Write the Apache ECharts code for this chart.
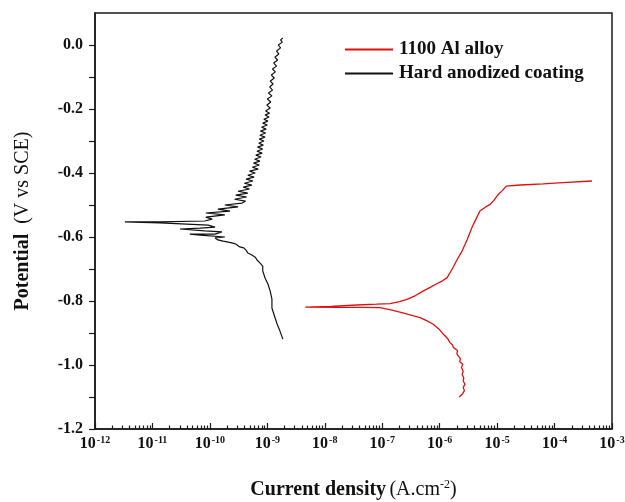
<!DOCTYPE html>
<html>
<head>
<meta charset="utf-8">
<script src="https://cdn.jsdelivr.net/npm/echarts@6/dist/echarts.min.js"></script>
<style>html,body{margin:0;padding:0;background:#fff}#c{width:625px;height:502px}</style>
</head>
<body>
<div id="c"></div>
<script>
// ---- data (log10 of current density in A/cm^2, potential in V vs SCE) ----
const seriesNames = ['1100 Al alloy', 'Hard anodized coating'];

const alloyLogI = [-5.66,-5.60,-5.57,-5.59,-5.56,-5.59,-5.58,-5.61,-5.59,-5.62,-5.60,-5.65,-5.64,-5.70,-5.69,-5.76,-5.78,-5.82,-5.86,-5.90,-5.94,-6.00,-6.05,-6.12,-6.22,-6.34,-6.50,-6.64,-6.85,-7.04,-7.40,-7.80,-8.34,
  -7.90,-7.44,-7.10,-6.86,-6.70,-6.57,-6.42,-6.29,-6.15,-6.05,-5.95,-5.87,-5.77,-5.70,-5.61,-5.52,-5.44,-5.37,-5.30,-5.20,-5.12,-5.05,-4.98,-4.91,-4.84,-4.60,-4.20,-3.85,-3.35];
const alloyE = [-1.100,-1.090,-1.080,-1.070,-1.060,-1.050,-1.040,-1.030,-1.020,-1.008,-0.998,-0.990,-0.980,-0.966,-0.955,-0.945,-0.937,-0.930,-0.918,-0.910,-0.903,-0.890,-0.882,-0.872,-0.862,-0.852,-0.844,-0.837,-0.828,-0.821,-0.820,-0.820,-0.819,
  -0.8165,-0.8125,-0.810,-0.808,-0.802,-0.795,-0.783,-0.769,-0.756,-0.746,-0.737,-0.727,-0.696,-0.672,-0.644,-0.608,-0.571,-0.545,-0.519,-0.506,-0.498,-0.484,-0.467,-0.455,-0.441,-0.4375,-0.434,-0.430,-0.425];

const coatingLogI = [-8.73,-8.78,-8.83,-8.87,-8.92,-8.92,-8.95,-8.99,-9.04,-9.08,-9.08,-9.13,-9.18,-9.21,-9.27,-9.34,-9.37,-9.41,-9.48,-9.55,-9.60,-9.68,-9.77,-9.86,-9.91,
  -9.74,-10.17,-10.35,-9.91,-9.79,-10.09,-10.52,-10.17,-9.91,-10.03,-10.87,-11.48,-10.87,-10.09,-9.96,-10.07,-9.74,-10.07,-9.65,-9.86,-9.51,-9.74,-9.44,
  -9.38,-9.57,-9.36,-9.55,-9.34,-9.51,-9.31,-9.42,-9.27,-9.40,-9.25,-9.37,-9.23,-9.34,-9.21,-9.31,-9.16,-9.26,-9.14,-9.24,-9.13,-9.22,-9.11,-9.20,-9.09,-9.18,-9.08,-9.17,-9.07,-9.15,-9.06,-9.14,-9.04,-9.13,-9.03,-9.12,-9.02,-9.10,-9.00,-9.08,-8.99,-9.06,-8.97,-9.04,-8.96,-9.03,
  -8.95,-9.01,-8.94,-9.00,-8.92,-8.98,-8.91,-8.96,-8.90,-8.95,-8.88,-8.93,-8.86,-8.91,-8.84,-8.89,-8.82,-8.87,-8.80,-8.84,-8.77,-8.81,-8.74,-8.77,-8.73];
const coatingE = [-0.919,-0.894,-0.872,-0.850,-0.822,-0.794,-0.769,-0.747,-0.728,-0.706,-0.691,-0.681,-0.672,-0.663,-0.656,-0.650,-0.641,-0.634,-0.631,-0.622,-0.619,-0.616,-0.613,-0.609,-0.603,
  -0.600,-0.594,-0.591,-0.591,-0.584,-0.581,-0.575,-0.572,-0.569,-0.563,-0.556,-0.553,-0.553,-0.550,-0.544,-0.538,-0.531,-0.525,-0.519,-0.513,-0.506,-0.500,-0.494,
  -0.488,-0.482,-0.475,-0.469,-0.463,-0.457,-0.450,-0.444,-0.438,-0.432,-0.425,-0.419,-0.413,-0.407,-0.400,-0.394,-0.388,-0.382,-0.375,-0.369,-0.363,-0.357,-0.350,-0.344,-0.338,-0.332,-0.325,-0.319,-0.313,-0.307,-0.300,-0.294,-0.288,-0.282,-0.275,-0.269,-0.263,-0.257,-0.250,-0.244,-0.238,-0.232,-0.225,-0.219,-0.213,-0.206,
  -0.197,-0.188,-0.178,-0.169,-0.159,-0.150,-0.141,-0.131,-0.122,-0.113,-0.103,-0.094,-0.084,-0.075,-0.066,-0.056,-0.047,-0.038,-0.028,-0.019,-0.009,0.000,0.009,0.016,0.022];

// ---- axis ticks ----
const xDecadeExps = [-12,-11,-10,-9,-8,-7,-6,-5,-4,-3];
const xMinorMults = [2,3,4,5,6,7,8,9];
const yTickValues = [-1.2,-1.1,-1.0,-0.9,-0.8,-0.7,-0.6,-0.5,-0.4,-0.3,-0.2,-0.1,0.0];
const yLabelValues = [-1.2,-1.0,-0.8,-0.6,-0.4,-0.2,0.0];

const xMajor = xDecadeExps.map(e => Math.pow(10, e));
const xMinor = [];
xDecadeExps.slice(0, -1).forEach(e => xMinorMults.forEach(m => xMinor.push(m * Math.pow(10, e))));

const toPairs = (li, ev) => li.map((l, i) => [Math.pow(10, l), ev[i]]);

const FONT = 'Liberation Serif';
const chart = echarts.init(document.getElementById('c'), null, {renderer: 'canvas'});
const xCommon = {
  type: 'log', logBase: 10, min: 1e-12, max: 1e-3, position: 'bottom',
  splitLine: {show: false}, minorTick: {show: false}
};
chart.setOption({
  animation: false,
  backgroundColor: '#fff',
  grid: {left: 95, right: 13, top: 13, bottom: 73, show: true, borderColor: '#1a1a1a', borderWidth: 1.5,
         containLabel: false, outerBoundsMode: 'none'},
  legend: {
    orient: 'vertical', left: 340, top: 35, itemWidth: 48, itemHeight: 2, itemGap: 5,
    icon: 'rect',
    data: seriesNames,
    textStyle: {fontFamily: FONT, fontWeight: 'bold', fontSize: 19, color: '#111', padding: [0, 0, 0, 1]}
  },
  xAxis: [
    Object.assign({}, xCommon, {
      axisLine: {show: true, onZero: false, lineStyle: {color: '#1a1a1a', width: 1.5}},
      axisTick: {show: true, inside: true, length: 6, customValues: xMajor, lineStyle: {color: '#1a1a1a', width: 1.2}},
      axisLabel: {
        show: true, margin: 6, customValues: xMajor,
        formatter: v => '{b|10}{s|' + Math.round(Math.log10(v)) + '}',
        rich: {
          b: {fontFamily: FONT, fontWeight: 'bold', fontSize: 16, color: '#111'},
          s: {fontFamily: FONT, fontWeight: 'bold', fontSize: 10, color: '#111', verticalAlign: 'top', padding: [0, 0, 8, 1]}
        }
      },
      name: '{b|Current density} {n|(A.cm}{s|-2}{n|)}',
      nameLocation: 'middle', nameGap: 50,
      nameTextStyle: {
        rich: {
          b: {fontFamily: FONT, fontWeight: 'bold', fontSize: 20, color: '#111'},
          n: {fontFamily: FONT, fontSize: 20, color: '#111'},
          s: {fontFamily: FONT, fontSize: 12, color: '#111', verticalAlign: 'top', padding: [0, 0, 10, 0]}
        }
      }
    }),
    Object.assign({}, xCommon, {
      axisLine: {show: false, onZero: false},
      axisTick: {show: true, inside: true, length: 3.5, customValues: xMinor, lineStyle: {color: '#1a1a1a', width: 1.2}},
      axisLabel: {show: false}
    })
  ],
  yAxis: {
    type: 'value', min: -1.2, max: 0.1, interval: 0.2,
    splitLine: {show: false},
    axisLine: {show: true, onZero: false, lineStyle: {color: '#1a1a1a', width: 1.5}},
    axisTick: {show: true, inside: false, length: 6, customValues: yTickValues, lineStyle: {color: '#1a1a1a', width: 1.2}},
    axisLabel: {
      show: true, margin: 12, customValues: yLabelValues,
      formatter: v => v.toFixed(1),
      fontFamily: FONT, fontWeight: 'bold', fontSize: 16, color: '#111'
    },
    name: '{b|Potential}{n|  (V vs SCE)}',
    nameLocation: 'middle', nameRotate: 90, nameGap: 62,
    nameTextStyle: {
      rich: {
        b: {fontFamily: FONT, fontWeight: 'bold', fontSize: 20, color: '#111'},
        n: {fontFamily: FONT, fontSize: 20, color: '#111'}
      }
    }
  },
  series: [
    {
      name: seriesNames[0], type: 'line', xAxisIndex: 0, symbol: 'none', showSymbol: false,
      data: toPairs(alloyLogI, alloyE),
      lineStyle: {color: '#e01010', width: 1.3}, itemStyle: {color: '#e01010'}
    },
    {
      name: seriesNames[1], type: 'line', xAxisIndex: 0, symbol: 'none', showSymbol: false,
      data: toPairs(coatingLogI, coatingE),
      lineStyle: {color: '#111', width: 1.2}, itemStyle: {color: '#111'}
    }
  ]
});
</script>
</body>
</html>
